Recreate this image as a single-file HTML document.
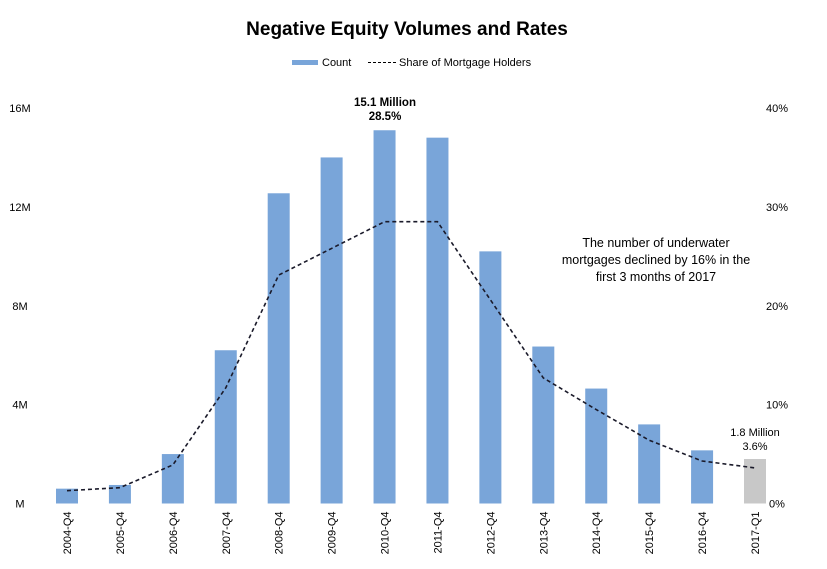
<!DOCTYPE html>
<html><head><meta charset="utf-8"><style>
body{margin:0;background:#fff;font-family:"Liberation Sans",Arial,sans-serif}
svg text{font-family:"Liberation Sans",Arial,sans-serif}
</style></head><body>
<svg width="827" height="564" viewBox="0 0 827 564">
<text x="407" y="35" text-anchor="middle" font-size="19" font-weight="bold">Negative Equity Volumes and Rates</text>
<g>
<rect x="292" y="60" width="26" height="5" fill="#79a5d9"/>
<text x="322" y="66" font-size="11">Count</text>
<line x1="368" y1="62.5" x2="397" y2="62.5" stroke="#000" stroke-dasharray="3,2"/>
<text x="399" y="66" font-size="11">Share of Mortgage Holders</text>
</g>
<g id="axes"></g>
<g id="bars"></g>
<g id="line"></g>
<text x="385" y="106" text-anchor="middle" font-size="11.5" font-weight="bold">15.1 Million</text>
<text x="385" y="120" text-anchor="middle" font-size="11.5" font-weight="bold">28.5%</text>
<text x="755" y="436" text-anchor="middle" font-size="11">1.8 Million</text>
<text x="755" y="450" text-anchor="middle" font-size="11">3.6%</text>
<g font-size="12.5" text-anchor="middle">
<text x="656" y="247">The number of underwater</text>
<text x="656" y="264">mortgages declined by 16% in the</text>
<text x="656" y="281">first 3 months of 2017</text>
</g>
</svg>
<script>
const categories=["2004-Q4","2005-Q4","2006-Q4","2007-Q4","2008-Q4","2009-Q4","2010-Q4","2011-Q4","2012-Q4","2013-Q4","2014-Q4","2015-Q4","2016-Q4","2017-Q1"];
const counts=[0.6,0.75,2.0,6.2,12.55,14.0,15.1,14.8,10.2,6.35,4.65,3.2,2.15,1.8];
const shares=[1.3,1.6,3.9,11.7,23.1,25.8,28.5,28.5,20.6,12.7,9.5,6.4,4.3,3.6];
const leftTicks=["M","4M","8M","12M","16M"];
const leftTickVals=[0,4,8,12,16];
const rightTicks=["0%","10%","20%","30%","40%"];
const rightTickVals=[0,10,20,30,40];
const NS="http://www.w3.org/2000/svg";
const y0=503.5,yTop=108;
const yL=v=>y0-(v/16)*(y0-yTop);
const yR=v=>y0-(v/40)*(y0-yTop);
const x=i=>67+i*(755-67)/(categories.length-1);
function mk(t,a,p){const e=document.createElementNS(NS,t);for(const k in a)e.setAttribute(k,a[k]);p.appendChild(e);return e;}
const axes=document.getElementById('axes'),bars=document.getElementById('bars'),line=document.getElementById('line');
leftTickVals.forEach((v,i)=>{const t=mk('text',{x:20,y:yL(v)+4,'text-anchor':'middle','font-size':11},axes);t.textContent=leftTicks[i];

});
rightTickVals.forEach((v,i)=>{const t=mk('text',{x:777,y:yR(v)+4,'text-anchor':'middle','font-size':11},axes);t.textContent=rightTicks[i];

});
categories.forEach((c,i)=>{
const last=i===categories.length-1;
const r=mk('rect',{x:x(i)-11,y:yL(counts[i]),width:22,height:y0-yL(counts[i]),fill:last?'#c8c8c8':'#79a5d9'},bars);


const t=mk('text',{x:0,y:0,'font-size':11,'text-anchor':'end',transform:`translate(${x(i)+4},${y0+8}) rotate(-90)`},axes);
t.textContent=c;


});
const p=mk('polyline',{points:shares.map((s,i)=>x(i)+','+yR(s)).join(' '),fill:'none',stroke:'#1a1a2a','stroke-width':1.6,'stroke-dasharray':'4,3'},line);


</script>
</body></html>
